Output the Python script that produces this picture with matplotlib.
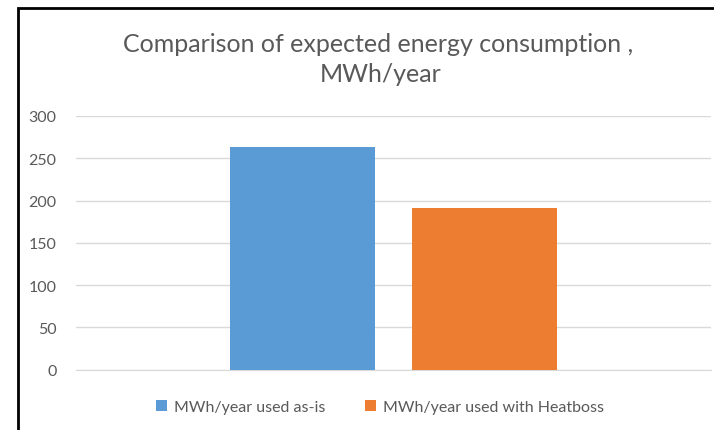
import matplotlib.pyplot as plt
from matplotlib.patches import Rectangle, Patch

# values
series_names = ['MWh/year used as-is', 'MWh/year used with Heatboss']
values = [263, 191]
colors = ['#5B9BD5', '#ED7D31']
y_ticks = [0, 50, 100, 150, 200, 250, 300]

plt.rcParams['font.family'] = ['Lato', 'DejaVu Sans']
text_color = '#595959'

fig = plt.figure(figsize=(7.14, 4.31), dpi=100)
ax = fig.add_axes([76 / 714, 60.3 / 431, 635 / 714, 253.7 / 431])

offsets = [-0.1433, 0.1433]
for off, val, col in zip(offsets, values, colors):
    ax.bar(off, val, width=0.227, color=col, zorder=3)

ax.set_xlim(-0.5, 0.5)
ax.set_ylim(0, 300)
ax.set_yticks(y_ticks)
ax.set_xticks([])
ax.grid(axis='y', color='#D9D9D9', linewidth=1, zorder=0)
for side in ['top', 'right', 'left']:
    ax.spines[side].set_visible(False)
ax.spines['bottom'].set_color('#D9D9D9')
ax.tick_params(axis='y', length=0, pad=14, labelsize=11.5, labelcolor=text_color)

# chart title (two lines as in the reference)
fig.text(378 / 714, 1 - 52 / 431, 'Comparison of expected energy consumption ,',
         ha='center', va='baseline', fontsize=18, color=text_color)
fig.text(381 / 714, 1 - 82 / 431, 'MWh/year',
         ha='center', va='baseline', fontsize=18, color=text_color)

handles = [Patch(facecolor=c, edgecolor='none') for c in colors]
fig.legend(handles, series_names, loc='center', bbox_to_anchor=(380 / 714, 1 - 408 / 431),
           ncol=2, frameon=False, fontsize=11.5, labelcolor=text_color,
           handlelength=0.7, handleheight=0.7, handletextpad=0.4, columnspacing=2.5)

# chart border (cropped on the right and bottom)
fig.patches.append(Rectangle((18 / 714, -0.1), 1.2, 1 - 9 / 431 + 0.1,
                             transform=fig.transFigure, fill=False,
                             edgecolor='black', linewidth=2, clip_on=False))

fig.savefig('out.png', dpi=100)
